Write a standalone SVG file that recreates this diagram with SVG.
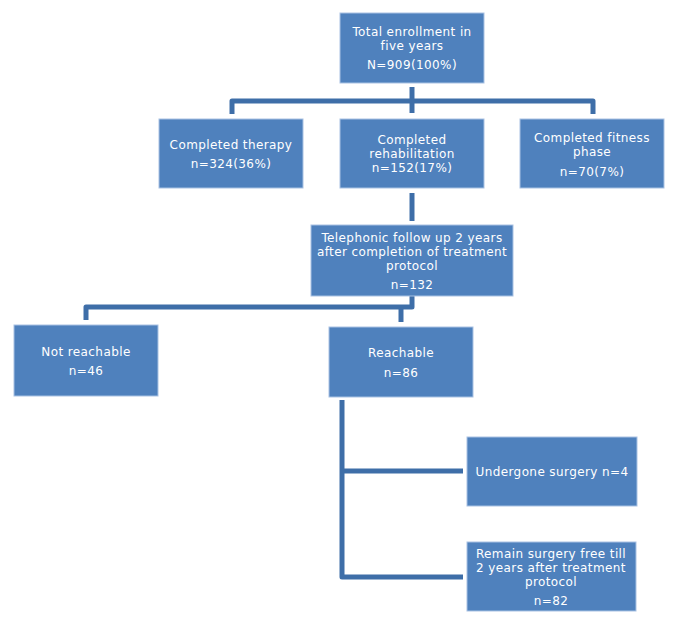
<svg xmlns="http://www.w3.org/2000/svg" width="680" height="626" viewBox="0 0 680 626">
<style>
.box{fill:#4F81BD;stroke:#A9C2E3;stroke-width:1}
.t{font-family:"DejaVu Sans","Noto Sans",sans-serif;font-size:12px;letter-spacing:0.4px;fill:#ffffff;text-anchor:middle}
.c{fill:none;stroke:#3E6EA8;stroke-width:5;stroke-linejoin:round;stroke-linecap:butt}
</style>
<rect width="680" height="626" fill="#ffffff"/>
<g id="connectors">
<path class="c" d="M412,87 V113"/>
<path class="c" d="M232,114 V101 H593 V114"/>
<path class="c" d="M412,193 V221"/>
<path class="c" d="M412,296 V307 H86 V320"/>
<path class="c" d="M401,307 V322"/>
<path class="c" d="M342,400 V577 H463"/>
<path class="c" d="M342,471 H463"/>
</g>
<g id="total">
<rect class="box" x="340" y="13" width="144" height="70"/>
<text class="t" x="412" y="36">Total enrollment in</text>
<text class="t" x="412" y="50">five years</text>
<text class="t" x="412" y="69">N=909(100%)</text>
</g>
<g id="therapy">
<rect class="box" x="159" y="119" width="144" height="69"/>
<text class="t" x="231" y="149">Completed therapy</text>
<text class="t" x="231" y="168">n=324(36%)</text>
</g>
<g id="rehab">
<rect class="box" x="340" y="119" width="144" height="69"/>
<text class="t" x="412" y="144">Completed</text>
<text class="t" x="412" y="158">rehabilitation</text>
<text class="t" x="412" y="172">n=152(17%)</text>
</g>
<g id="fitness">
<rect class="box" x="520" y="119" width="144" height="69"/>
<text class="t" x="592" y="142">Completed fitness</text>
<text class="t" x="592" y="156">phase</text>
<text class="t" x="592" y="176">n=70(7%)</text>
</g>
<g id="telephonic">
<rect class="box" x="311" y="225" width="202" height="71"/>
<text class="t" x="412" y="242">Telephonic follow up 2 years</text>
<text class="t" x="412" y="256">after completion of treatment</text>
<text class="t" x="412" y="270">protocol</text>
<text class="t" x="412" y="289">n=132</text>
</g>
<g id="notreachable">
<rect class="box" x="14" y="325" width="144" height="71"/>
<text class="t" x="86" y="356">Not reachable</text>
<text class="t" x="86" y="375">n=46</text>
</g>
<g id="reachable">
<rect class="box" x="329" y="327" width="144" height="70"/>
<text class="t" x="401" y="357">Reachable</text>
<text class="t" x="401" y="377">n=86</text>
</g>
<g id="surgery">
<rect class="box" x="467" y="437" width="170" height="69"/>
<text class="t" x="552" y="476">Undergone surgery n=4</text>
</g>
<g id="free">
<rect class="box" x="467" y="542" width="169" height="69"/>
<text class="t" x="551" y="558">Remain surgery free till</text>
<text class="t" x="551" y="572">2 years after treatment</text>
<text class="t" x="551" y="586">protocol</text>
<text class="t" x="551" y="605">n=82</text>
</g>
</svg>
